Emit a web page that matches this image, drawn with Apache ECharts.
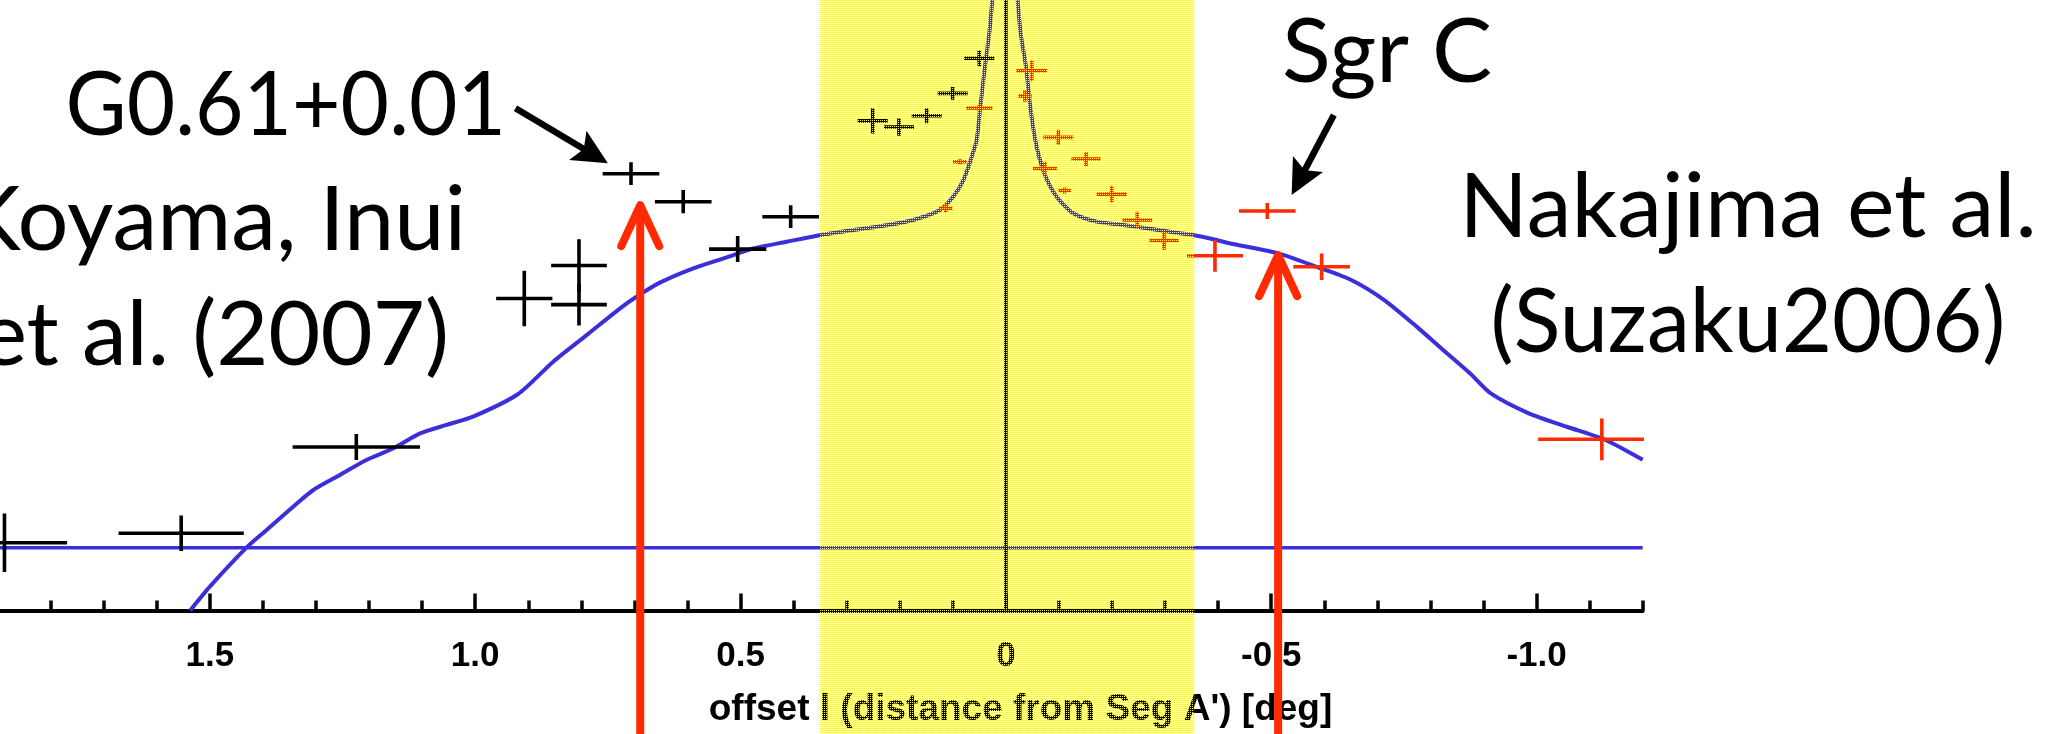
<!DOCTYPE html>
<html>
<head>
<meta charset="utf-8">
<script src="https://cdn.jsdelivr.net/npm/echarts@6/dist/echarts.min.js"></script>
<style>
html,body{margin:0;padding:0;background:#fff;}
#c{width:2059px;height:734px;}
</style>
</head>
<body>
<div id="c"></div>
<script>
// ---------- data ----------
const tickValues = [1.5, 1.0, 0.5, 0, -0.5, -1.0];
const tickLabels = ['1.5', '1.0', '0.5', '0', '-0.5', '-1.0'];

// Koyama, Inui et al. (2007) – black points
const koyamaL    = [1.887, 1.554, 1.224, 0.9075, 0.8044, 0.8044, 0.7064, 0.608, 0.5054, 0.4055, 0.251, 0.2014, 0.1492, 0.1003, 0.0501];
const koyamaY    = [11.1, 12.65, 26.78, 51.1, 56.5, 50.1, 71.55, 66.96, 59.2, 64.5, 80.2, 79.2, 81.05, 84.7, 90.45];
const koyamaLErr = [0.118, 0.118, 0.120, 0.053, 0.0525, 0.0525, 0.0534, 0.0534, 0.054, 0.0534, 0.0283, 0.0283, 0.0283, 0.0283, 0.0283];
const koyamaYErr = [4.8, 2.9, 2.13, 4.54, 4.3, 3.4, 1.86, 1.91, 2.13, 1.86, 2.05, 1.42, 1.23, 1.03, 1.29];

// Nakajima et al. (Suzaku 2006) – red points
const nakajimaL    = [-0.0486, -0.036, 0.050, 0.0865, 0.1134, -0.0988, -0.151, -0.0737, -0.111, -0.1993, -0.2476, -0.298, -0.394, -0.4926, -0.595, -1.123];
const nakajimaY    = [88.4, 84.3, 82.3, 73.5, 65.9, 77.5, 73.95, 72.4, 68.8, 68.2, 63.96, 60.6, 58.1, 65.44, 56.3, 28.04];
const nakajimaLErr = [0.029, 0.0126, 0.025, 0.0132, 0.0126, 0.0283, 0.0276, 0.0226, 0.012, 0.0283, 0.0283, 0.0276, 0.0528, 0.0534, 0.0534, 0.12];
const nakajimaYErr = [1.72, 0.96, 0.55, 0.4, 0.7, 1.23, 1.17, 1.1, 0.5, 1.37, 1.37, 1.5, 2.6, 1.31, 2.18, 3.41];

// model curve (two branches, the peak runs off the top)
const modelLeftL = [1.537, 1.5, 1.431, 1.393, 1.343, 1.305, 1.255, 1.205, 1.154, 1.104, 1.054, 1.004, 0.919, 0.853, 0.790, 0.727, 0.696, 0.652, 0.589, 0.526, 0.476, 0.413, 0.348, 0.2876, 0.2246, 0.1745, 0.124, 0.099, 0.080, 0.0644, 0.055, 0.0488, 0.0394, 0.0313, 0.0256];
const modelLeftY = [0, 3.9, 10.29, 13.19, 17.0, 19.74, 22.2, 24.65, 26.57, 29.0, 30.4, 31.75, 35.46, 40.75, 45.1, 49.5, 51.4, 53.7, 56.05, 57.85, 59.3, 60.4, 61.5, 62.3, 63.1, 63.96, 65.6, 67.8, 70.5, 74.3, 77.1, 81.98, 89.07, 94.5, 100];
const modelRightL = [-0.0222, -0.0279, -0.0379, -0.0467, -0.058, -0.0737, -0.0957, -0.127, -0.171, -0.221, -0.265, -0.328, -0.353, -0.391, -0.4285, -0.513, -0.5856, -0.648, -0.711, -0.774, -0.824, -0.8745, -0.913, -0.9853, -1.057, -1.130, -1.2];
const modelRightY = [100, 94.5, 89.07, 81.98, 75.97, 71.33, 67.78, 65.06, 63.69, 63.15, 62.6, 61.8, 61.5, 60.8, 60.03, 58.5, 56.3, 54.25, 50.97, 46.5, 42.67, 38.85, 35.6, 32.3, 30.1, 27.93, 24.7];

// flat background level
const baselineL = [2.0, -1.2];
const baselineY = [10.29, 10.29];

// shaded band and central line
const bandRange = [0.35, -0.355];
const centerL = [0, 0];
const centerY = [0, 100];

// red up-arrows (position, tip height)
const markerL = [0.689, -0.513];
const markerTipY = [66.4, 58.2];

// black pointer arrows (from -> to)
const pointerFrom = [[0.924, 82.26], [-0.618, 81.16]];
const pointerTo   = [[0.750, 73.25], [-0.5385, 68.06]];

const yMin = 0, yMax = 100, yBelow = -20.23;
const xMin = -1.2, xMax = 2.0;

// ---------- chart ----------
const BLUE = '#3b2fd9', RED = '#ff2a00';
const pc = document.createElement('canvas');
pc.width = 2; pc.height = 2;
const pg = pc.getContext('2d');
pg.fillStyle = '#ffff00';
pg.fillRect(0, 0, 1, 1);

function errorBars(color) {
  return function (params, api) {
    const l = api.value(0), y = api.value(1), le = api.value(2), ye = api.value(3);
    const a = api.coord([l - le, y]), b = api.coord([l + le, y]);
    const c = api.coord([l, y - ye]), d = api.coord([l, y + ye]);
    const st = { stroke: color, lineWidth: 3.6, fill: 'none' };
    return { type: 'group', children: [
      { type: 'line', shape: { x1: a[0], y1: a[1], x2: b[0], y2: b[1] }, style: st },
      { type: 'line', shape: { x1: c[0], y1: c[1], x2: d[0], y2: d[1] }, style: st }
    ]};
  };
}

function bandRenderer(fill) {
  return function (params, api) {
    const a = api.coord([api.value(0), yMax]);
    const b = api.coord([api.value(1), yBelow]);
    return { type: 'rect', shape: { x: a[0], y: a[1], width: b[0] - a[0], height: b[1] - a[1] },
      style: { fill: fill } };
  };
}

const chart = echarts.init(document.getElementById('c'), null, { renderer: 'canvas' });
const labelFont = { fontFamily: 'Liberation Sans', fontWeight: 'bold', fontSize: 35, color: '#000' };
const gill = '"Lato", "Noto Sans", sans-serif';

chart.setOption({
  backgroundColor: '#fff',
  animation: false,
  grid: { left: -55.5, width: 1698.2, top: 0, height: 610.5, containLabel: false, outerBoundsMode: 'none' },
  xAxis: [{
    type: 'value', inverse: true, min: xMin, max: xMax, interval: 0.1, position: 'bottom', z: 1,
    axisLine: { show: true, onZero: false, lineStyle: { color: '#000', width: 4 } },
    axisTick: { show: true, inside: true, length: 10, lineStyle: { color: '#000', width: 3.5 } },
    axisLabel: Object.assign({ margin: 28, formatter: function (v) {
      const i = tickValues.findIndex(t => Math.abs(t - v) < 1e-6);
      return i >= 0 ? tickLabels[i] : '';
    } }, labelFont),
    splitLine: { show: false }
  }, {
    type: 'value', inverse: true, min: xMin, max: xMax, position: 'bottom', offset: 0, z: 1,
    axisLine: { show: false, onZero: false },
    axisTick: { show: true, inside: true, length: 17, customValues: tickValues, lineStyle: { color: '#000', width: 3.5 } },
    axisLabel: { show: false },
    splitLine: { show: false }
  }],
  yAxis: {
    type: 'value', min: yMin, max: yMax, show: false, splitLine: { show: false }
  },
  graphic: [
    { type: 'text', z: 1, x: 506, y: 106, scaleX: 0.93, style: { text: 'G0.61+0.01', font: '90px ' + gill, fill: '#000', align: 'right', verticalAlign: 'middle' } },
    { type: 'text', z: 1, x: 466, y: 221, style: { text: 'Koyama, Inui', font: '90px ' + gill, fill: '#000', align: 'right', verticalAlign: 'middle' } },
    { type: 'text', z: 1, x: 449, y: 336, style: { text: 'et al. (2007)', font: '90px ' + gill, fill: '#000', align: 'right', verticalAlign: 'middle' } },
    { type: 'text', z: 1, x: 1282, y: 53, style: { text: 'Sgr C', font: '90px ' + gill, fill: '#000', align: 'left', verticalAlign: 'middle' } },
    { type: 'text', z: 1, x: 1748, y: 208, style: { text: 'Nakajima et al.', font: '90px ' + gill, fill: '#000', align: 'center', verticalAlign: 'middle' } },
    { type: 'text', z: 1, x: 1748, y: 323, scaleX: 0.96, style: { text: '(Suzaku2006)', font: '90px ' + gill, fill: '#000', align: 'center', verticalAlign: 'middle' } },
    { type: 'text', z: 1, x: 1020.5, y: 710, style: { text: "offset l (distance from Seg A') [deg]", font: 'bold 37px "Liberation Sans", Arial, sans-serif', fill: '#000', align: 'center', verticalAlign: 'middle' } }
  ],
  series: [
    { type: 'custom', name: 'band background', clip: false, z: 0, silent: true,
      data: [[bandRange[0], bandRange[1]]], renderItem: bandRenderer('#fffed8') },
    { type: 'line', name: 'baseline', data: baselineL.map((l, i) => [l, baselineY[i]]),
      showSymbol: false, lineStyle: { color: BLUE, width: 3.6 }, z: 2 },
    { type: 'line', name: 'model left', data: modelLeftL.map((l, i) => [l, modelLeftY[i]]),
      showSymbol: false, smooth: 0.25, lineStyle: { color: BLUE, width: 4 }, z: 2 },
    { type: 'line', name: 'model right', data: modelRightL.map((l, i) => [l, modelRightY[i]]),
      showSymbol: false, smooth: 0.25, lineStyle: { color: BLUE, width: 4 }, z: 2 },
    { type: 'line', name: 'center', data: centerL.map((l, i) => [l, centerY[i]]),
      showSymbol: false, lineStyle: { color: '#000', width: 3.5 }, z: 3 },
    { type: 'custom', name: 'Koyama', renderItem: errorBars('#000'), clip: true,
      data: koyamaL.map((l, i) => [l, koyamaY[i], koyamaLErr[i], koyamaYErr[i]]), z: 4 },
    { type: 'custom', name: 'Nakajima', renderItem: errorBars(RED), clip: true,
      data: nakajimaL.map((l, i) => [l, nakajimaY[i], nakajimaLErr[i], nakajimaYErr[i]]), z: 4 },
    { type: 'custom', name: 'markers', clip: false, z: 5,
      data: markerL.map((l, i) => [l, markerTipY[i]]),
      renderItem: function (params, api) {
        const t = api.coord([api.value(0), api.value(1)]);
        const b = api.coord([api.value(0), yBelow]);
        const st = { stroke: RED, fill: 'none', lineWidth: 8, lineCap: 'round', lineJoin: 'round' };
        return { type: 'group', children: [
          { type: 'line', shape: { x1: b[0], y1: b[1] + 10, x2: t[0], y2: t[1] + 4 }, style: { stroke: RED, fill: 'none', lineWidth: 8 } },
          { type: 'polyline', shape: { points: [[t[0] - 19, t[1] + 41], [t[0], t[1]], [t[0] + 19, t[1] + 41]] }, style: st }
        ]};
      } },
    { type: 'custom', name: 'pointers', clip: false, z: 5,
      data: pointerFrom.map((f, i) => [f[0], f[1], pointerTo[i][0], pointerTo[i][1]]),
      renderItem: function (params, api) {
        const p0 = api.coord([api.value(0), api.value(1)]);
        const p1 = api.coord([api.value(2), api.value(3)]);
        const dx = p1[0] - p0[0], dy = p1[1] - p0[1];
        const len = Math.hypot(dx, dy), ux = dx / len, uy = dy / len, nx = -uy, ny = ux;
        const hl = 35, hw = 17;
        const bx = p1[0] - ux * hl, by = p1[1] - uy * hl;
        return { type: 'group', children: [
          { type: 'line', shape: { x1: p0[0], y1: p0[1], x2: bx + ux * 8, y2: by + uy * 8 }, style: { stroke: '#000', fill: 'none', lineWidth: 6.5 } },
          { type: 'polygon', shape: { points: [[p1[0], p1[1]], [bx + nx * hw, by + ny * hw], [bx + ux * 7, by + uy * 7], [bx - nx * hw, by - ny * hw]] }, style: { fill: '#000' } }
        ]};
      } },
    { type: 'custom', name: 'band dots', clip: false, z: 10, silent: true,
      data: [[bandRange[0], bandRange[1]]], renderItem: bandRenderer({ image: pc, repeat: 'repeat' }) }
  ]
});
</script>
</body>
</html>
